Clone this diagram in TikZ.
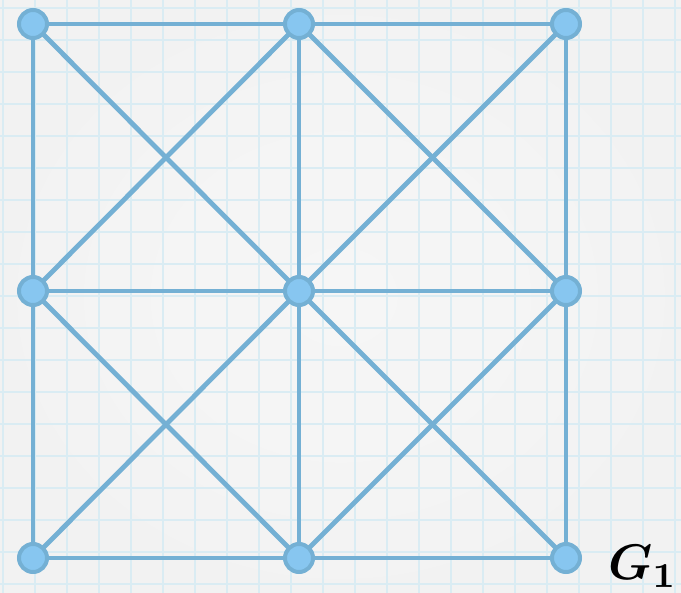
\documentclass[tikz,border=0pt]{standalone}
\usepackage{amsmath,bm}
\definecolor{bgc}{RGB}{245,245,245}
\definecolor{gridc}{RGB}{218,236,243}
\definecolor{edgec}{RGB}{116,176,212}
\definecolor{nodec}{RGB}{135,198,240}
\tikzset{
  vtx/.style={circle, fill=nodec, draw=edgec, line width=4pt, minimum size=28pt, inner sep=0pt},
  edg/.style={draw=edgec, line width=4.8pt},
  gridln/.style={draw=gridc, line width=2.2pt}
}
\begin{document}
\begin{tikzpicture}[x=1pt,y=-1pt]
\useasboundingbox (0,0) rectangle (681,593);
\fill[bgc] (0,0) rectangle (681,593);
\shade[inner color=white!97!black, outer color=white!95!black, opacity=0.7] (0,0) rectangle (681,593);
\foreach \k in {0,...,21} { \draw[gridln] ({3+32*\k},0) -- ({3+32*\k},593); }
\foreach \k in {0,...,18} { \draw[gridln] (0,{8+32*\k}) -- (681,{8+32*\k}); }
% vertices
\coordinate (p11) at (33,24);  \coordinate (p12) at (299,24);  \coordinate (p13) at (566,24);
\coordinate (p21) at (33,291); \coordinate (p22) at (299,291); \coordinate (p23) at (566,291);
\coordinate (p31) at (33,558); \coordinate (p32) at (299,558); \coordinate (p33) at (566,558);
% edges
\foreach \a/\b in {p11/p12,p12/p13,p21/p22,p22/p23,p31/p32,p32/p33,
                   p11/p21,p21/p31,p12/p22,p22/p32,p13/p23,p23/p33,
                   p11/p22,p12/p21,p12/p23,p13/p22,p21/p32,p22/p31,p22/p33,p23/p32}
  { \draw[edg] (\a) -- (\b); }
\foreach \p in {p11,p12,p13,p21,p22,p23,p31,p32,p33}
  { \node[vtx] (n\p) at (\p) {}; }
\node[anchor=base west, inner sep=0pt, scale=5.0] (lab) at (607,580)
  {\fontsize{10}{12}\selectfont $\bm{G_1}$};
\end{tikzpicture}
\end{document}
